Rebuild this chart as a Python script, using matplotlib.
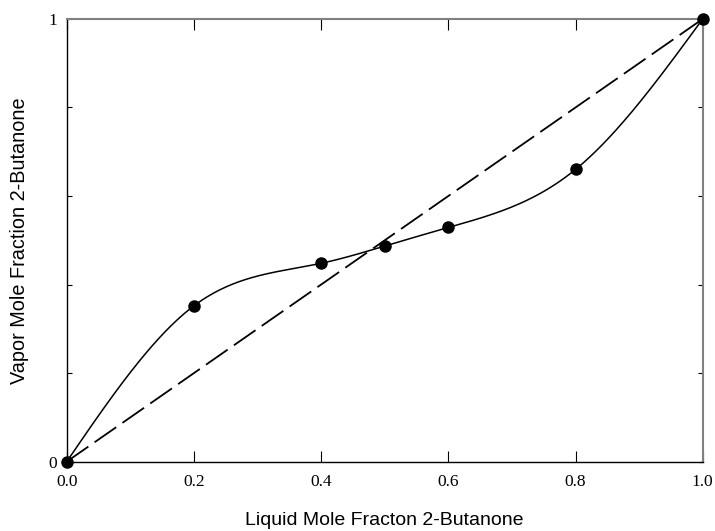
import numpy as np
import matplotlib
matplotlib.use("Agg")
import matplotlib.pyplot as plt

# liquid / vapor mole fraction of 2-butanone
x_liq = [0.0, 0.2, 0.4, 0.5, 0.6, 0.8, 1.0]
y_vap = [0.0, 0.352, 0.448, 0.487, 0.529, 0.660, 1.0]
x_ticks = [0.0, 0.2, 0.4, 0.6, 0.8, 1.0]
x_ticklabels = ["0.0", "0.2", "0.4", "0.6", "0.8", "1.0"]
y_ticks = [0.0, 0.2, 0.4, 0.6, 0.8, 1.0]
y_ticklabels = ["0", "", "", "", "", "1"]


def natural_spline(xs, ys, n=300):
    # natural cubic spline through the points, only used to draw the smooth curve
    xs = np.asarray(xs, float)
    ys = np.asarray(ys, float)
    k = len(xs)
    h = np.diff(xs)
    A = np.zeros((k, k))
    b = np.zeros(k)
    A[0, 0] = A[-1, -1] = 1
    for i in range(1, k - 1):
        A[i, i - 1] = h[i - 1]
        A[i, i] = 2 * (h[i - 1] + h[i])
        A[i, i + 1] = h[i]
        b[i] = 6 * ((ys[i + 1] - ys[i]) / h[i] - (ys[i] - ys[i - 1]) / h[i - 1])
    M = np.linalg.solve(A, b)
    xx = np.linspace(xs[0], xs[-1], n)
    j = np.clip(np.searchsorted(xs, xx) - 1, 0, k - 2)
    t0 = xs[j + 1] - xx
    t1 = xx - xs[j]
    hj = h[j]
    yy = (M[j] * t0**3 + M[j + 1] * t1**3) / (6 * hj) \
        + (ys[j] / hj - M[j] * hj / 6) * t0 + (ys[j + 1] / hj - M[j + 1] * hj / 6) * t1
    return xx, yy


fig = plt.figure(figsize=(7.15, 5.31), dpi=100)
ax = fig.add_axes([0.0933, 0.1306, 0.8895, 0.8337])

xx, yy = natural_spline(x_liq, y_vap)
ax.plot(xx, yy, color="black", lw=1.1)
ax.plot([0, 1], [0, 1], color="black", lw=1.3, dashes=(14.6, 4.2))
ax.plot(x_liq, y_vap, "o", color="black", ms=8, clip_on=False, zorder=5)

ax.set_xlim(0, 1)
ax.set_ylim(0, 1)
ax.set_xticks(x_ticks)
ax.set_xticklabels(x_ticklabels, family="Liberation Serif", fontsize=12.5)
ax.set_yticks(y_ticks)
ax.set_yticklabels(y_ticklabels, family="Liberation Serif", fontsize=12.5)
ax.tick_params(axis="x", direction="in", length=8, width=0.8, pad=9, top=True)
ax.tick_params(axis="y", direction="in", length=3.5, width=0.8, right=True, pad=7)

for s in ["top", "right"]:
    ax.spines[s].set_color("#808080")
    ax.spines[s].set_linewidth(1.5)
for s in ["left", "bottom"]:
    ax.spines[s].set_color("black")
    ax.spines[s].set_linewidth(1.0)

ax.set_xlabel("Liquid Mole Fracton 2-Butanone", family="Liberation Sans", fontsize=14, labelpad=16)
ax.set_ylabel("Vapor Mole Fraction 2-Butanone", family="Liberation Sans", fontsize=14.3, labelpad=14)

fig.savefig("out.png", dpi=100)
